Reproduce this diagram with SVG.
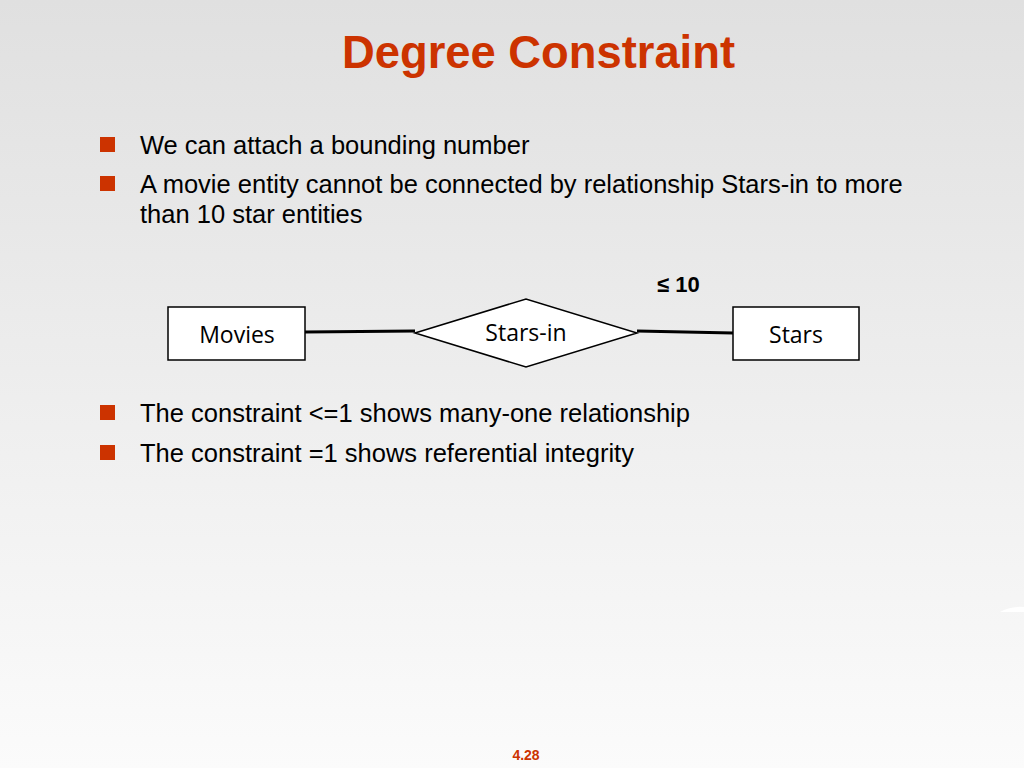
<svg xmlns="http://www.w3.org/2000/svg" width="1024" height="768" viewBox="0 0 1024 768">
<defs>
<linearGradient id="bg" x1="0" y1="0" x2="0" y2="1">
<stop offset="0" stop-color="#e0e0e0"/>
<stop offset="1" stop-color="#fbfbfb"/>
</linearGradient>
<style>
.title{font-family:"Liberation Sans",Arial,sans-serif;font-weight:bold;font-size:47px;fill:#cc3300}
.body{font-family:"Liberation Sans",Arial,sans-serif;font-size:25.5px;fill:#000}
.bul{fill:#cc3300}
.ent{fill:#fff;stroke:#000;stroke-width:1.5}
.lbl{font-family:"Open Sans","Noto Sans",sans-serif;font-size:23px;fill:#000;text-anchor:middle}
.conn{stroke:#000;stroke-width:3;fill:none}
.num{font-family:"Liberation Sans",Arial,sans-serif;font-weight:bold;font-size:14px;fill:#cc3300;text-anchor:middle}
</style>
</defs>
<rect width="1024" height="768" fill="url(#bg)"/>
<path d="M1000,612 Q1010,606 1024,607 L1024,612 Z" fill="#ffffff"/>
<text class="title" x="342" y="68" textLength="393" lengthAdjust="spacingAndGlyphs">Degree Constraint</text>
<rect class="bul" x="100" y="137" width="15" height="15"/>
<text class="body" x="140" y="154">We can attach a bounding number</text>
<rect class="bul" x="100" y="176" width="15" height="15"/>
<text class="body" x="140" y="193">A movie entity cannot be connected by relationship Stars-in to more</text>
<text class="body" x="140" y="223">than 10 star entities</text>
<g id="connectors">
<path class="conn" d="M305,332 L415,331"/>
<path class="conn" d="M637,331 L733,333"/>
</g>
<g id="movies">
<rect class="ent" x="168" y="307" width="137" height="53"/>
<text class="lbl" x="237" y="343">Movies</text>
</g>
<g id="stars-in">
<polygon class="ent" points="415,333 526,299 637,333 526,367"/>
<text class="lbl" x="526" y="341">Stars-in</text>
</g>
<g id="stars">
<rect class="ent" x="733" y="307" width="126" height="53"/>
<text class="lbl" x="796" y="343">Stars</text>
</g>
<text x="657" y="292" font-family="Liberation Sans,Arial,sans-serif" font-weight="bold" font-size="22">≤ 10</text>
<rect class="bul" x="100" y="405" width="15" height="15"/>
<text class="body" x="140" y="422">The constraint &lt;=1 shows many-one relationship</text>
<rect class="bul" x="100" y="445" width="15" height="15"/>
<text class="body" x="140" y="462">The constraint =1 shows referential integrity</text>
<text class="num" x="526" y="760">4.28</text>
</svg>
